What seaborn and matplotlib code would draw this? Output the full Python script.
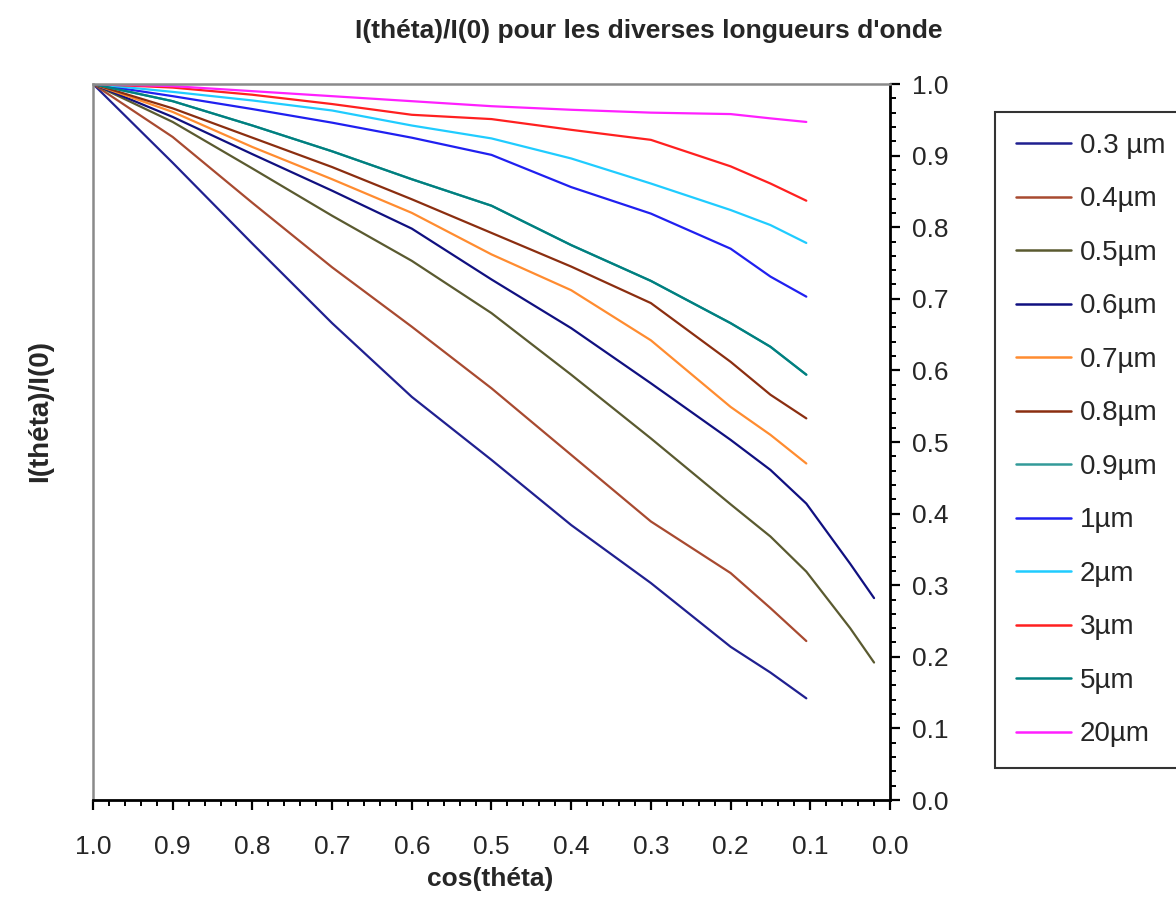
import numpy as np
import pandas as pd
import matplotlib
matplotlib.use("Agg")
import matplotlib.pyplot as plt
from matplotlib.ticker import MultipleLocator
import seaborn as sns

# cos(theta) sampling
cos_theta = [1.0, 0.9, 0.8, 0.7, 0.6, 0.5, 0.4, 0.3, 0.2, 0.15, 0.105]
cos_theta_ext = cos_theta + [0.05, 0.02]

labels = ["0.3 µm", "0.4µm", "0.5µm", "0.6µm", "0.7µm", "0.8µm",
          "0.9µm", "1µm", "2µm", "3µm", "5µm", "20µm"]
colors = ["#202090", "#A84A30", "#5A5A30", "#101080", "#FF8C30", "#8B2E10",
          "#339A99", "#2020F0", "#20CCFF", "#FF2020", "#008080", "#FF20FF"]

i_03 = [1.0, 0.89, 0.777, 0.666, 0.563, 0.475, 0.384, 0.303, 0.214, 0.178, 0.142]
i_04 = [1.0, 0.926, 0.834, 0.744, 0.661, 0.575, 0.482, 0.389, 0.317, 0.268, 0.222]
i_05 = [1.0, 0.947, 0.882, 0.816, 0.753, 0.680, 0.594, 0.505, 0.413, 0.368, 0.319, 0.240, 0.192]
i_06 = [1.0, 0.954, 0.902, 0.851, 0.798, 0.727, 0.659, 0.582, 0.503, 0.461, 0.414, 0.330, 0.282]
i_07 = [1.0, 0.961, 0.912, 0.867, 0.820, 0.762, 0.712, 0.642, 0.549, 0.510, 0.470]
i_08 = [1.0, 0.966, 0.925, 0.884, 0.839, 0.792, 0.745, 0.694, 0.612, 0.566, 0.533]
i_09 = [1.0, 0.976, 0.942, 0.906, 0.867, 0.830, 0.775, 0.725, 0.666, 0.633, 0.594]
i_1 = [1.0, 0.983, 0.965, 0.946, 0.925, 0.901, 0.856, 0.819, 0.770, 0.731, 0.703]
i_2 = [1.0, 0.989, 0.977, 0.963, 0.942, 0.924, 0.896, 0.861, 0.824, 0.803, 0.778]
i_3 = [1.0, 0.995, 0.985, 0.972, 0.957, 0.951, 0.936, 0.922, 0.885, 0.861, 0.837]
i_5 = [1.0, 0.976, 0.942, 0.906, 0.867, 0.830, 0.775, 0.725, 0.666, 0.633, 0.594]
i_20 = [1.0, 0.997, 0.990, 0.983, 0.976, 0.969, 0.964, 0.960, 0.958, 0.952, 0.947]

series = [i_03, i_04, i_05, i_06, i_07, i_08, i_09, i_1, i_2, i_3, i_5, i_20]

frames = []
for lab, vals in zip(labels, series):
    xs = cos_theta_ext if len(vals) == len(cos_theta_ext) else cos_theta
    frames.append(pd.DataFrame({"cos": xs, "I": vals, "lambda": lab}))
df = pd.concat(frames, ignore_index=True)

sns.set_style("white")
plt.rcParams["font.family"] = ["Liberation Sans", "DejaVu Sans"]

fig = plt.figure(figsize=(11.76, 9.02), dpi=100)
ax = fig.add_axes([93 / 1176, 1 - 800 / 902, 797 / 1176, 716 / 902])

sns.lineplot(data=df, x="cos", y="I", hue="lambda", hue_order=labels,
             palette=dict(zip(labels, colors)), estimator=None, sort=False,
             linewidth=1.6, ax=ax)
handles, labs = ax.get_legend_handles_labels()
ax.get_legend().remove()

ax.set_xlim(1.0, 0.0)
ax.set_ylim(0.0, 1.0)
ax.xaxis.set_major_locator(MultipleLocator(0.1))
ax.xaxis.set_minor_locator(MultipleLocator(0.02))
ax.yaxis.set_major_locator(MultipleLocator(0.1))
ax.yaxis.set_minor_locator(MultipleLocator(0.02))
ax.xaxis.set_major_formatter(lambda v, p: f"{v:.1f}")
ax.yaxis.set_major_formatter(lambda v, p: f"{v:.1f}")
ax.yaxis.tick_right()
ax.yaxis.set_label_position("left")
ax.tick_params(axis="both", which="major", direction="out", length=7, width=1.6,
               color="black", labelsize=19)
ax.tick_params(axis="both", which="minor", direction="out", length=4.5, width=1.4,
               color="black")
ax.tick_params(axis="x", which="major", pad=18)
ax.tick_params(axis="y", which="major", pad=9)
ax.tick_params(axis="x", which="both", bottom=True, top=False)
ax.tick_params(axis="y", which="both", right=True, left=False)

for side in ["left", "top"]:
    ax.spines[side].set_color("#8a8a8a")
    ax.spines[side].set_linewidth(1.8)
for side in ["right", "bottom"]:
    ax.spines[side].set_color("black")
    ax.spines[side].set_linewidth(2.0)

ax.set_xlabel("cos(théta)", fontsize=19, fontweight="bold", va="center")
ax.set_ylabel("I(théta)/I(0)", fontsize=20, fontweight="bold")
ax.xaxis.set_label_coords(0.498, -0.11)
ax.yaxis.set_label_coords(-0.05, 0.543)

fig.text(0.552, 1 - 31 / 902, "I(théta)/I(0) pour les diverses longueurs d'onde",
         ha="center", va="center", fontsize=19, fontweight="bold")

leg = fig.legend(handles, labs, loc="upper left",
                 bbox_to_anchor=(995 / 1176, 1 - 112 / 902),
                 frameon=True, fancybox=False, fontsize=20,
                 handlelength=2.0, handletextpad=0.3, labelspacing=0.99,
                 borderpad=0.75, borderaxespad=0)
leg.get_frame().set_edgecolor("black")
leg.get_frame().set_linewidth(1.5)
for line in leg.get_lines():
    line.set_linewidth(1.8)

fig.savefig("out.png", dpi=100)
